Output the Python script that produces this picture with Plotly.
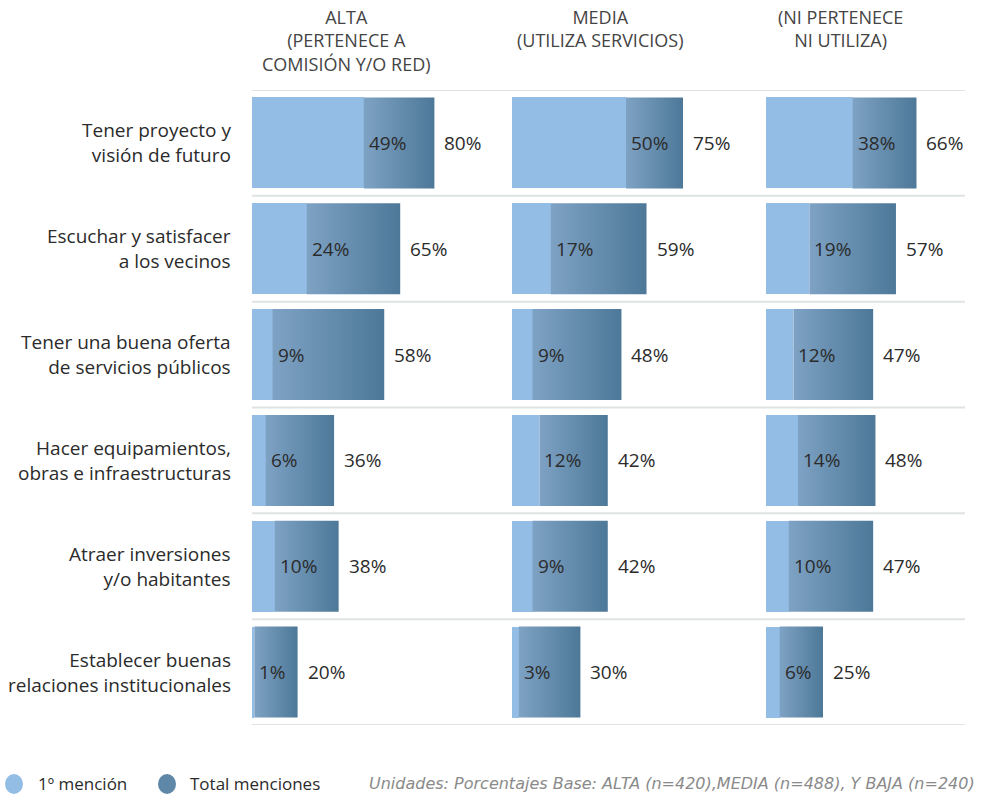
import plotly.graph_objects as go

categories = [
    "Tener proyecto y<br>visión de futuro",
    "Escuchar y satisfacer<br>a los vecinos",
    "Tener una buena oferta<br>de servicios públicos",
    "Hacer equipamientos,<br>obras e infraestructuras",
    "Atraer inversiones<br>y/o habitantes",
    "Establecer buenas<br>relaciones institucionales",
]
panels = [
    "ALTA<br>(PERTENECE A<br>COMISIÓN Y/O RED)",
    "MEDIA<br>(UTILIZA SERVICIOS)",
    "(NI PERTENECE<br>NI UTILIZA)",
]
alta_first = [49, 24, 9, 6, 10, 1]
alta_total = [80, 65, 58, 36, 38, 20]
media_first = [50, 17, 9, 12, 9, 3]
media_total = [75, 59, 48, 42, 42, 30]
baja_first = [38, 19, 12, 14, 10, 6]
baja_total = [66, 57, 47, 48, 47, 25]

series = [(alta_first, alta_total), (media_first, media_total), (baja_first, baja_total)]

W, H = 982, 795
FONT = "Open Sans"
LIGHT = "#94bde6"
GRAD = [[0, "#7ea2c4"], [1, "#4d7898"]]
TXT = "#2b2b2b"

panel_px = [(252, 502), (512, 762), (766, 966)]
px_per_pct = 2.28
y_top, y_bot = 90, 725
BAR_H = 0.86

fig = go.Figure()
annotations = []
shapes = []
n = len(categories)
ys = list(range(n))

for p, (first, total) in enumerate(series):
    xa = "x" if p == 0 else f"x{p+1}"
    ya = "y" if p == 0 else f"y{p+1}"
    for i in range(n):
        y0, y1 = ys[i] - BAR_H / 2, ys[i] + BAR_H / 2
        fig.add_trace(go.Scatter(
            x=[first[i], total[i], total[i], first[i], first[i]],
            y=[y0, y0, y1, y1, y0],
            mode="lines", fill="toself", line=dict(width=0),
            fillgradient=dict(type="horizontal", colorscale=GRAD),
            xaxis=xa, yaxis=ya, showlegend=False, hoverinfo="skip",
        ))
    fig.add_trace(go.Bar(
        x=first, y=ys, orientation="h", width=BAR_H,
        marker=dict(color=LIGHT, line=dict(width=0)),
        xaxis=xa, yaxis=ya, showlegend=False,
    ))
    for i in range(n):
        annotations.append(dict(
            x=first[i], y=ys[i], xref=xa, yref=ya, text=f"{first[i]}%",
            showarrow=False, xanchor="left", xshift=3,
            font=dict(family=FONT, size=19, color=TXT)))
        annotations.append(dict(
            x=total[i], y=ys[i], xref=xa, yref=ya, text=f"{total[i]}%",
            showarrow=False, xanchor="left", xshift=8,
            font=dict(family=FONT, size=19, color=TXT)))

layout_axes = {}
for p, (a, b) in enumerate(panel_px):
    xk = "xaxis" if p == 0 else f"xaxis{p+1}"
    yk = "yaxis" if p == 0 else f"yaxis{p+1}"
    layout_axes[xk] = dict(domain=[a / W, b / W], range=[0, (b - a) / px_per_pct],
                           visible=False, fixedrange=True,
                           anchor="y" if p == 0 else f"y{p+1}")
    layout_axes[yk] = dict(domain=[1 - y_bot / H, 1 - y_top / H], range=[n - 0.5, -0.5],
                           visible=False, fixedrange=True,
                           anchor="x" if p == 0 else f"x{p+1}")

for k in range(n + 1):
    shapes.append(dict(type="line", xref="paper", yref="y", x0=252 / W, x1=965 / W,
                       y0=k - 0.5, y1=k - 0.5, line=dict(color="#dfe3e4", width=2), layer="below"))

for i, c in enumerate(categories):
    annotations.append(dict(x=233 / W, y=ys[i], xref="paper", yref="y", text=c, showarrow=False,
                            xanchor="right", align="right",
                            font=dict(family=FONT, size=19, color=TXT)))

for cx, t in zip([346, 600, 840], panels):
    annotations.append(dict(x=cx / W, y=1 - 3 / H, xref="paper", yref="paper", text=t, showarrow=False,
                            xanchor="center", yanchor="top", align="center",
                            font=dict(family=FONT, size=18, color="#444444")))

for cx, col, lab, tx in [(14, LIGHT, "1º mención", 36), (167, "#5f87a8", "Total menciones", 188)]:
    shapes.append(dict(type="circle", xref="paper", yref="paper",
                       x0=(cx - 9) / W, x1=(cx + 9) / W, y0=1 - 794 / H, y1=1 - 774 / H,
                       fillcolor=col, line=dict(width=0)))
    annotations.append(dict(x=tx / W, y=1 - 783 / H, xref="paper", yref="paper", text=lab, showarrow=False,
                            xanchor="left", yanchor="middle",
                            font=dict(family=FONT, size=17, color=TXT)))
annotations.append(dict(x=977 / W, y=1 - 783 / H, xref="paper", yref="paper",
                        text="<i>Unidades: Porcentajes Base: ALTA (n=420),MEDIA (n=488), Y BAJA (n=240)</i>",
                        showarrow=False, xanchor="right", yanchor="middle",
                        font=dict(family="DejaVu Sans", size=16, color="#8a8a8a")))

fig.update_layout(
    width=W, height=H, margin=dict(l=0, r=0, t=0, b=0),
    plot_bgcolor="white", paper_bgcolor="white",
    barmode="overlay", bargap=0,
    annotations=annotations, shapes=shapes, showlegend=False,
    **layout_axes,
)
fig.write_html("out.html", config={"displayModeBar": False},
               post_script="document.body.style.margin='0';document.documentElement.style.overflow='hidden';")
